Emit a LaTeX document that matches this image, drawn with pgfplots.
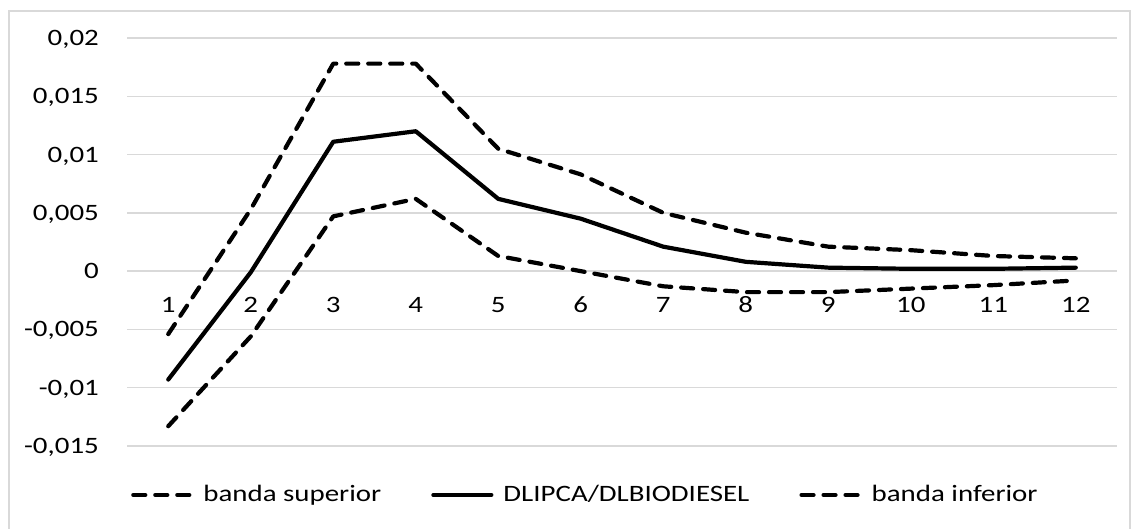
\documentclass[border=0pt]{standalone}
\usepackage{fontspec}
\setmainfont[FakeStretch=1.23]{Carlito}
\usepackage{pgfplots}
\pgfplotsset{compat=1.18}
\definecolor{gridc}{HTML}{D9D9D9}
\begin{document}
\fontsize{23.5}{28}\selectfont
\begin{tikzpicture}
\useasboundingbox (0,0) rectangle (1131pt,528pt);
\draw[gridc, line width=1.5pt] (9pt,-5pt) -- (9pt,517pt) -- (1130pt,517pt) -- (1130pt,-5pt);
\begin{axis}[
  at={(127pt,82pt)}, anchor=south west,
  scale only axis, width=990pt, height=408pt,
  xmin=0.5, xmax=12.5, ymin=-0.015, ymax=0.02,
  axis line style={draw=none},
  major tick length=0pt,
  scaled y ticks=false,
  xtick={1,...,12},
  xticklabels={1,2,3,4,5,6,7,8,9,10,11,12},
  xticklabel style={anchor=base, inner sep=0pt, yshift=133.5pt, font=\fontsize{23.5}{28}\selectfont},
  ytick={-0.015,-0.01,-0.005,0,0.005,0.01,0.015,0.02},
  yticklabels={{-0,015},{-0,01},{-0,005},{0},{0,005},{0,01},{0,015},{0,02}},
  yticklabel style={anchor=base east, inner sep=0pt, xshift=-28pt, yshift=-7.5pt, font=\fontsize{23.5}{28}\selectfont},
  ymajorgrids, grid style={gridc, line width=1.3pt},
  legend columns=3,
  legend image code/.code={\draw[#1] (2pt,0pt) -- (60pt,0pt);},
  legend style={draw=none, fill=none, at={(axis description cs:0.462,-0.12)}, anchor=center,
    font=\fontsize{23.5}{28}\selectfont,
    inner sep=0pt, nodes={inner sep=0pt, anchor=west},
    /tikz/every odd column/.append style={column sep=10pt},
    /tikz/every even column/.append style={column sep=50pt}},
]
\addplot[black, no marks, line width=4.2pt, line join=round, line cap=round, dash pattern=on 12pt off 10pt] coordinates {
(1,-0.0054) (2,0.0053) (3,0.0178) (4,0.0178) (5,0.0105) (6,0.0083)
(7,0.0050) (8,0.0033) (9,0.0021) (10,0.0018) (11,0.0013) (12,0.0011)};
\addlegendentry{banda superior}
\addplot[black, no marks, line width=4.2pt, line join=round, line cap=round] coordinates {
(1,-0.0093) (2,-0.0001) (3,0.0111) (4,0.0120) (5,0.0062) (6,0.0045)
(7,0.0021) (8,0.0008) (9,0.0003) (10,0.0002) (11,0.0002) (12,0.0003)};
\addlegendentry{DLIPCA/DLBIODIESEL}
\addplot[black, no marks, line width=4.2pt, line join=round, line cap=round, dash pattern=on 12pt off 10pt] coordinates {
(1,-0.0133) (2,-0.0056) (3,0.0047) (4,0.0062) (5,0.0013) (6,0.0000)
(7,-0.0013) (8,-0.0018) (9,-0.0018) (10,-0.0015) (11,-0.0012) (12,-0.0008)};
\addlegendentry{banda inferior}
\end{axis}
\end{tikzpicture}
\end{document}
